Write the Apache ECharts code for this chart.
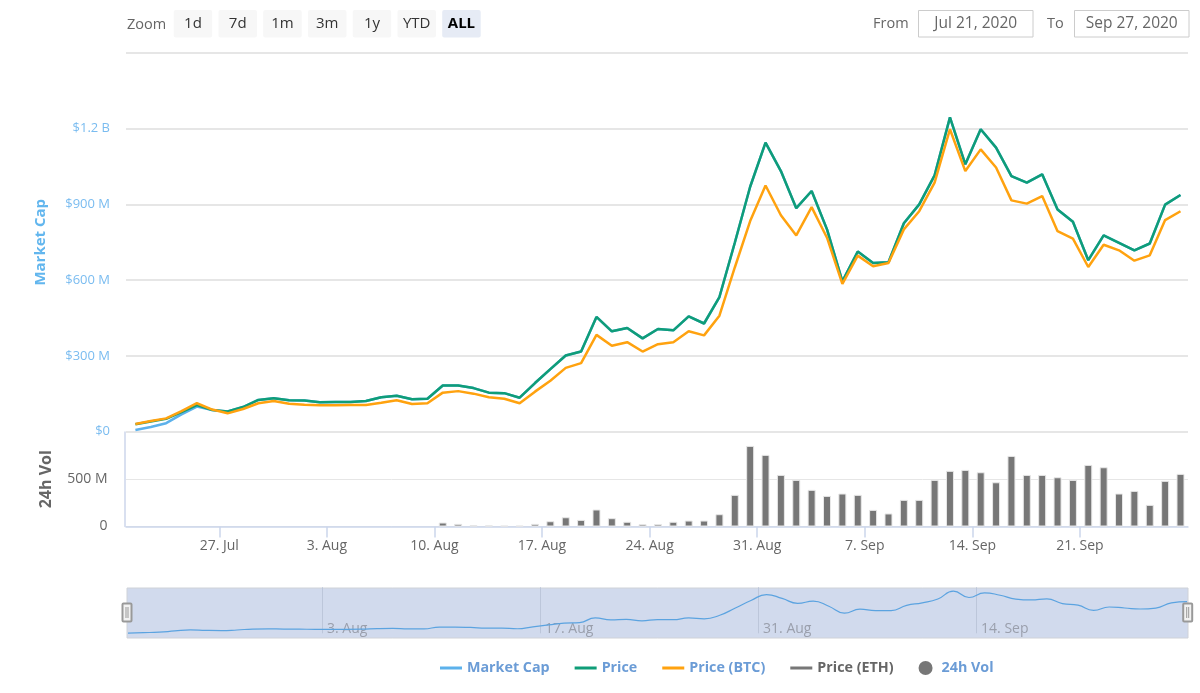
<!DOCTYPE html>
<html>
<head>
<meta charset="utf-8">
<style>html,body{margin:0;padding:0;background:#fff}#c{width:1200px;height:693px}</style>
<script src="https://cdn.jsdelivr.net/npm/echarts@6/dist/echarts.min.js"></script>
</head>
<body>
<div id="c"></div>
<script>
// values in millions
const marketCap = [6,18,33,68,99,85,79,97,125,132,124,123,116,117,117,121,136,142,128,130,182,182,172,154,152,134,192,247,301,317,454,397,410,369,406,401,456,428,533,748,970,1145,1032,885,953,801,595,713,668,671,825,900,1015,1245,1059,1198,1125,1012,986,1019,880,831,679,777,748,718,745,899,937];
const price = [29,40,50,77,105,85,79,97,125,132,124,123,116,117,117,121,136,142,128,130,182,182,172,154,152,134,192,247,301,317,454,397,410,369,406,401,456,428,533,748,970,1145,1032,885,953,801,595,713,668,671,825,900,1015,1245,1059,1198,1125,1012,986,1019,880,831,679,777,748,718,745,899,937];
const priceBTC = [30,42,52,81,112,87,72,89,112,121,110,106,104,104,105,105,114,124,109,112,154,160,150,136,130,112,158,201,252,271,383,340,354,317,346,354,397,381,459,650,834,975,857,777,889,768,585,697,655,668,801,873,986,1198,1032,1118,1046,916,903,933,794,764,652,740,718,677,698,838,873];
const volume = [null,null,null,null,null,null,null,null,null,null,null,null,null,null,null,null,null,null,null,null,42,28,14,12,10,10,28,56,98,70,180,88,50,25,25,50,63,63,130,335,853,758,546,493,388,324,349,335,176,138,282,282,493,589,599,574,468,747,546,546,521,493,652,627,349,377,229,483,557];
const firstPoint = Date.UTC(2020,6,21,13);
const DAY = 86400000;
const dates = price.map((_, i) => firstPoint + i * DAY);

const tickDates = [Date.UTC(2020,6,27),Date.UTC(2020,7,3),Date.UTC(2020,7,10),Date.UTC(2020,7,17),Date.UTC(2020,7,24),Date.UTC(2020,7,31),Date.UTC(2020,8,7),Date.UTC(2020,8,14),Date.UTC(2020,8,21)];
const tickLabels = ['27. Jul','3. Aug','10. Aug','17. Aug','24. Aug','31. Aug','7. Sep','14. Sep','21. Sep'];
const navDates = [Date.UTC(2020,7,3),Date.UTC(2020,7,17),Date.UTC(2020,7,31),Date.UTC(2020,8,14)];
const navLabels = ['3. Aug','17. Aug','31. Aug','14. Sep'];
const capTicks = {0:'$0',300:'$300 M',600:'$600 M',900:'$900 M',1200:'$1.2 B'};
const volTicks = {0:'0',500:'500 M'};
const rangeButtons = ['1d','7d','1m','3m','1y','YTD','ALL'];
const fromDate = 'Jul 21, 2020', toDate = 'Sep 27, 2020';

const FONT = '"Open Sans", "Noto Sans", sans-serif';
const BLUE = '#7abcf0', GREY = '#666666', AXIS = '#ccd6eb';
const C_CAP = '#5cb1eb', C_PRICE = '#0f9d78', C_BTC = '#ffa20f', C_ETH = '#777777';
const LINE_ICON = 'path://M0 5.5H22V8.5H0ZM0 0L0.01 0ZM0 14L0.01 14Z';
const pair = a => a.map((v, i) => [dates[i], v]);

const mainMin = Date.UTC(2020,6,20,22,19), mainMax = mainMin + 69.1 * DAY;
const navMin = firstPoint - 1.54 * 3600000, navMax = dates[dates.length-1] + 1.54 * 3600000;

const graphic = [];
const txt = (x, y, text, o) => graphic.push({type:'text', x, y, silent:true, style:Object.assign({text, fontFamily:FONT, fontSize:14.5, fill:GREY, align:'left', verticalAlign:'middle'}, o||{})});
txt(127, 24.5, 'Zoom');
rangeButtons.forEach((b, i) => {
  const x = 173.7 + i * 44.75, on = b === 'ALL';
  graphic.push({type:'rect', silent:true, shape:{x, y:10, width:38.5, height:27.5, r:2}, style:{fill:on ? '#e6ebf5' : '#f7f7f7'}});
  txt(x + 19.25, 24, b, {align:'center', fontSize:15, fill:on ? '#000' : '#333', fontWeight:on ? 'bold' : 'normal'});
});
txt(873, 24, 'From');
txt(1047, 24, 'To');
[[918.5, fromDate], [1074.5, toDate]].forEach(([x, t]) => {
  graphic.push({type:'rect', silent:true, shape:{x, y:10.5, width:114.5, height:26.5}, style:{fill:'#fff', stroke:'#cccccc', lineWidth:1}});
  txt(x + 57.25, 24, t, {align:'center', fontSize:15.5});
});
[127, 1187.7].forEach(cx => {
  graphic.push({type:'rect', silent:true, z:10, shape:{x:cx-4.5, y:603.5, width:9, height:18, r:1}, style:{fill:'#f2f2f2', stroke:'#999999', lineWidth:2}});
  [-1, 1].forEach(d => graphic.push({type:'line', silent:true, z:11, shape:{x1:cx+d, y1:607, x2:cx+d, y2:618}, style:{stroke:'#999999', lineWidth:1}}));
});

const option = {
  animation:false,
  textStyle:{fontFamily:FONT},
  graphic,
  grid:[
    {left:126, width:1062, top:53, height:378.5},
    {left:126, width:1062, top:432, height:94.5},
    {left:127, width:1061, top:588, height:50, show:true, backgroundColor:'#d1daed', borderColor:'#cfd2d8', borderWidth:1}
  ],
  xAxis:[
    {gridIndex:0, type:'value', min:mainMin, max:mainMax, show:false, splitLine:{show:false}},
    {gridIndex:1, type:'value', min:mainMin, max:mainMax,
      axisLine:{show:true, lineStyle:{color:AXIS, width:1.5}},
      axisTick:{show:true, customValues:tickDates, length:11, lineStyle:{color:AXIS, width:1.5}},
      splitLine:{show:false},
      axisLabel:{customValues:tickDates, margin:13, color:GREY, fontSize:14, fontFamily:FONT, hideOverlap:false,
        formatter:v => tickLabels[tickDates.indexOf(+v)] || ''}},
    {gridIndex:2, type:'value', min:navMin, max:navMax,
      axisLine:{show:false},
      axisTick:{show:true, inside:true, customValues:navDates, length:46, lineStyle:{color:'#bcc6da', width:1}},
      splitLine:{show:false},
      axisLabel:{show:true, inside:true, customValues:navDates, margin:2, align:'left', padding:[0,0,0,5], color:'#9a9fac', fontSize:14, fontFamily:FONT, hideOverlap:false,
        formatter:v => navLabels[navDates.indexOf(+v)] || ''}}
  ],
  yAxis:[
    {gridIndex:0, type:'value', min:0, max:1500, interval:300,
      name:'Market Cap', nameLocation:'middle', nameGap:78, nameRotate:90,
      nameTextStyle:{color:'#62b6ee', fontSize:15, fontWeight:'bold', fontFamily:FONT},
      axisLine:{show:false}, axisTick:{show:false},
      splitLine:{show:true, lineStyle:{color:'#e6e6e6', width:2}},
      axisLabel:{margin:16, padding:[6,0,0,0], color:BLUE, fontSize:13, fontFamily:FONT, formatter:v => capTicks[v] || ''}},
    {gridIndex:1, type:'value', min:0, max:1000, interval:500,
      name:'24h Vol', nameLocation:'middle', nameGap:70, nameRotate:90,
      nameTextStyle:{color:GREY, fontSize:16, fontWeight:'bold', fontFamily:FONT},
      offset:1.5,
      axisLine:{show:true, lineStyle:{color:AXIS, width:1.5}}, axisTick:{show:false},
      splitLine:{show:true, lineStyle:{color:'#e6e6e6', width:1}},
      axisLabel:{margin:17, padding:[2,0,0,0], color:GREY, fontSize:14, fontFamily:FONT, formatter:v => volTicks[v] || ''}},
    {gridIndex:2, type:'value', min:-140, max:1340, show:false, splitLine:{show:false}}
  ],
  legend:{
    left:440, top:661, itemGap:25, itemWidth:22, itemHeight:14, padding:0,
    itemStyle:{borderWidth:0},
    textStyle:{fontFamily:FONT, fontSize:14.3, fontWeight:'bold', color:'#6b9cd6'},
    data:[
      {name:'Market Cap', icon:LINE_ICON},
      {name:'Price', icon:LINE_ICON},
      {name:'Price (BTC)', icon:LINE_ICON},
      {name:'Price (ETH)', icon:LINE_ICON, textStyle:{color:GREY}},
      {name:'24h Vol', icon:'circle', itemStyle:{borderWidth:0}}
    ]
  },
  series:[
    {name:'Market Cap', type:'line', xAxisIndex:0, yAxisIndex:0, data:pair(marketCap), symbol:'none', lineStyle:{color:C_CAP, width:2.5}, itemStyle:{color:C_CAP}},
    {name:'Price', type:'line', xAxisIndex:0, yAxisIndex:0, data:pair(price), symbol:'none', lineStyle:{color:C_PRICE, width:2.5}, itemStyle:{color:C_PRICE}},
    {name:'Price (BTC)', type:'line', xAxisIndex:0, yAxisIndex:0, data:pair(priceBTC), symbol:'none', lineStyle:{color:C_BTC, width:2.5}, itemStyle:{color:C_BTC}},
    {name:'Price (ETH)', type:'line', xAxisIndex:0, yAxisIndex:0, data:[], symbol:'none', lineStyle:{color:C_ETH, width:2.5}, itemStyle:{color:C_ETH}},
    {name:'24h Vol', type:'bar', xAxisIndex:1, yAxisIndex:1, data:pair(volume), barWidth:8, itemStyle:{color:C_ETH, borderColor:'#e8e8e8', borderWidth:1}},
    {name:'Market Cap', type:'line', xAxisIndex:2, yAxisIndex:2, data:pair(marketCap), symbol:'none', smooth:true, lineStyle:{color:'#5ba3e0', width:1.2}, itemStyle:{color:C_CAP}}
  ]
};
echarts.init(document.getElementById('c'), null, {renderer:'canvas'}).setOption(option);
</script>
</body>
</html>
